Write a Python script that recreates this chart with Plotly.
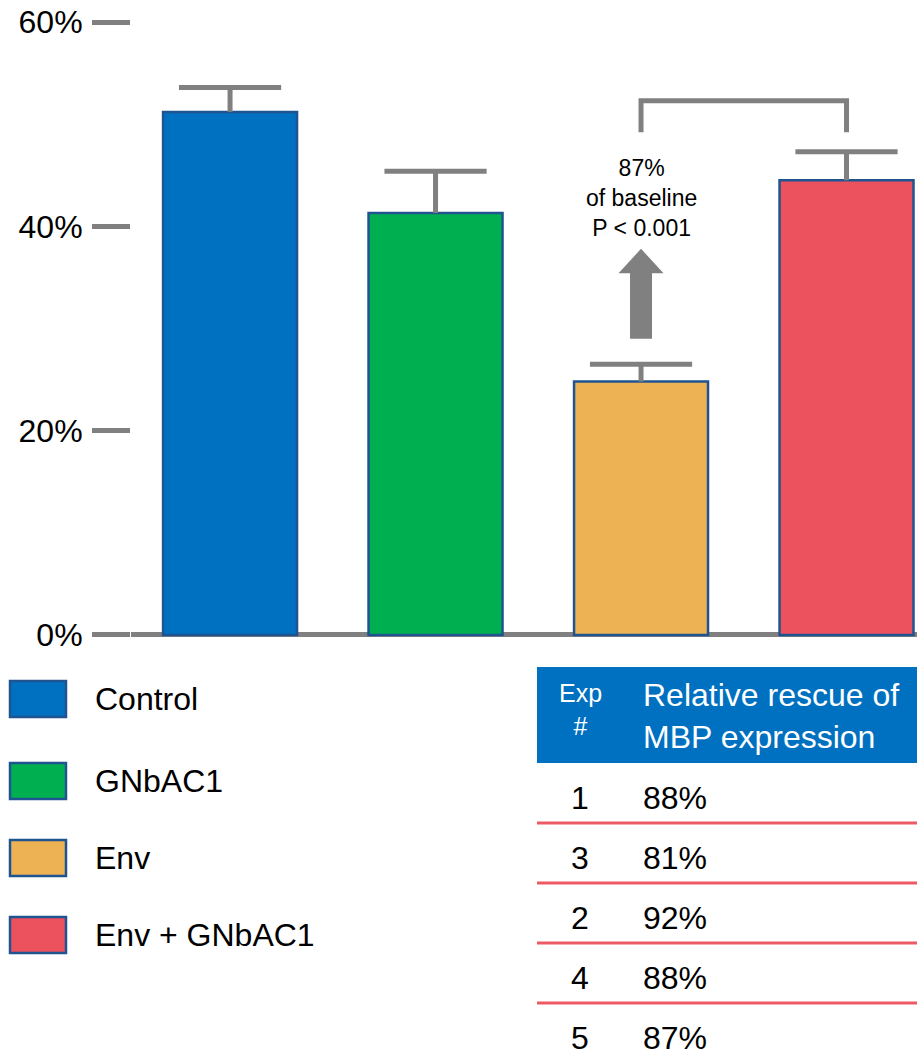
import plotly.graph_objects as go

# --- data -------------------------------------------------------------
groups = ["Control", "GNbAC1", "Env", "Env + GNbAC1"]
mbp_pct = [51.2, 41.3, 24.8, 44.5]          # bar heights (%)
mbp_err = [2.4, 4.1, 1.7, 2.8]              # upper error (%)
bar_colors = ["#0070C0", "#00B050", "#EDB254", "#EC525E"]

y_ticks = [0, 20, 40, 60]
y_tick_text = ["0%", "20%", "40%", "60%"]

exp_ids = ["1", "3", "2", "4", "5"]
rescue_pct = [88, 81, 92, 88, 87]

callout_text = "87%<br>of baseline<br>P < 0.001"
bracket_low, bracket_high = 49.2, 52.3      # comparison bracket levels (%)
arrow_base, arrow_neck, arrow_tip = 29.0, 35.4, 37.8

# --- geometry helpers -------------------------------------------------
W, H = 917, 1061
L, R, T = 131, 0, 22
Y_MIN = -0.5
PLOT_BOTTOM = 640
plot_w = W - L - R
plot_h = PLOT_BOTTOM - T

def px(xp):
    return (xp - L) / plot_w

def py(yp):
    return (PLOT_BOTTOM - yp) / plot_h

GRAY = "#808080"
OUTLINE = "#1F5490"
FONT = "Liberation Sans, Arial, sans-serif"
BIG = 32

xs = list(range(len(groups)))
err_top = [m + e for m, e in zip(mbp_pct, mbp_err)]

fig = go.Figure()
fig.add_trace(go.Bar(
    x=xs, y=mbp_pct, width=0.652,
    marker=dict(color=bar_colors, line=dict(color=OUTLINE, width=2.5)),
    showlegend=False, hoverinfo="skip",
))
# error stems (upper only) with a single cap at the top
fig.add_trace(go.Scatter(
    x=xs, y=err_top, mode="markers",
    marker=dict(symbol="line-ew", size=73, color=GRAY, line=dict(color=GRAY, width=5)),
    error_y=dict(type="data", array=[0] * len(mbp_err), arrayminus=mbp_err,
                 symmetric=False, color=GRAY, thickness=5, width=0),
    showlegend=False, hoverinfo="skip", cliponaxis=False,
))

shapes = []
# bracket between Env and Env + GNbAC1
shapes.append(dict(type="path", xref="x", yref="y",
                   path=f"M 2 {bracket_low} L 2 {bracket_high} L 3 {bracket_high} L 3 {bracket_low}",
                   line=dict(color=GRAY, width=5)))
# block arrow above the Env bar
sw, hw = 11 / 205.5, 22.5 / 205.5
shapes.append(dict(type="path", xref="x", yref="y",
                   path=(f"M {2 - sw} {arrow_base} L {2 - sw} {arrow_neck} L {2 - hw} {arrow_neck} "
                         f"L 2 {arrow_tip} L {2 + hw} {arrow_neck} L {2 + sw} {arrow_neck} "
                         f"L {2 + sw} {arrow_base} Z"),
                   fillcolor=GRAY, line=dict(width=0)))

annotations = [dict(xref="x", yref="y", x=2, y=42.8, text=callout_text, showarrow=False,
                    font=dict(family=FONT, size=23, color="#000000"), align="center")]

# legend swatches
legend_y = [699, 781, 858, 935]
for name, col, yc in zip(groups, bar_colors, legend_y):
    shapes.append(dict(type="rect", xref="paper", yref="paper",
                       x0=px(10), x1=px(66), y0=py(yc - 18), y1=py(yc + 18),
                       fillcolor=col, line=dict(color=OUTLINE, width=2.5)))
    annotations.append(dict(xref="paper", yref="paper", x=px(93), y=py(yc), text=name,
                            xanchor="left", yanchor="middle", showarrow=False,
                            font=dict(family=FONT, size=BIG, color="#000000")))

# rescue table
tbl_x0, tbl_x1 = 537, 917
shapes.append(dict(type="rect", xref="paper", yref="paper",
                   x0=px(tbl_x0), x1=px(tbl_x1), y0=py(763), y1=py(667),
                   fillcolor="#0070C0", line=dict(width=0)))
annotations.append(dict(xref="paper", yref="paper", x=px(580), y=py(709), text="Exp<br>#",
                        showarrow=False, xanchor="center", yanchor="middle", align="center",
                        font=dict(family=FONT, size=25, color="#FFFFFF")))
annotations.append(dict(xref="paper", yref="paper", x=px(641), y=py(716),
                        text="Relative rescue of<br>MBP expression",
                        showarrow=False, xanchor="left", yanchor="middle", align="left",
                        font=dict(family=FONT, size=BIG, color="#FFFFFF")))
for i, (eid, val) in enumerate(zip(exp_ids, rescue_pct)):
    yc = 798 + 60 * i
    annotations.append(dict(xref="paper", yref="paper", x=px(580), y=py(yc), text=eid,
                            showarrow=False, xanchor="center", yanchor="middle",
                            font=dict(family=FONT, size=BIG, color="#000000")))
    annotations.append(dict(xref="paper", yref="paper", x=px(641), y=py(yc), text=f"{val}%",
                            showarrow=False, xanchor="left", yanchor="middle",
                            font=dict(family=FONT, size=BIG, color="#000000")))
    if i < len(exp_ids) - 1:
        shapes.append(dict(type="line", xref="paper", yref="paper",
                           x0=px(tbl_x0), x1=px(tbl_x1), y0=py(yc + 25), y1=py(yc + 25),
                           line=dict(color="#EC5A66", width=3)))

fig.update_layout(
    width=W, height=H,
    margin=dict(l=L, r=R, t=T, b=H - PLOT_BOTTOM, pad=0),
    paper_bgcolor="#FFFFFF", plot_bgcolor="#FFFFFF",
    shapes=shapes, annotations=annotations,
    xaxis=dict(range=[-0.482, 3.343], showticklabels=False, showgrid=False,
               zeroline=False, showline=False, ticks="", fixedrange=True),
    yaxis=dict(range=[Y_MIN, 60], tickvals=y_ticks, ticktext=y_tick_text,
               ticks="outside", ticklen=38, tickwidth=5, tickcolor=GRAY,
               ticklabelstandoff=3,
               tickfont=dict(family=FONT, size=BIG, color="#000000"),
               showgrid=False, showline=False,
               zeroline=True, zerolinecolor=GRAY, zerolinewidth=5),
    bargap=0.3,
)

fig.write_html("out.html")
